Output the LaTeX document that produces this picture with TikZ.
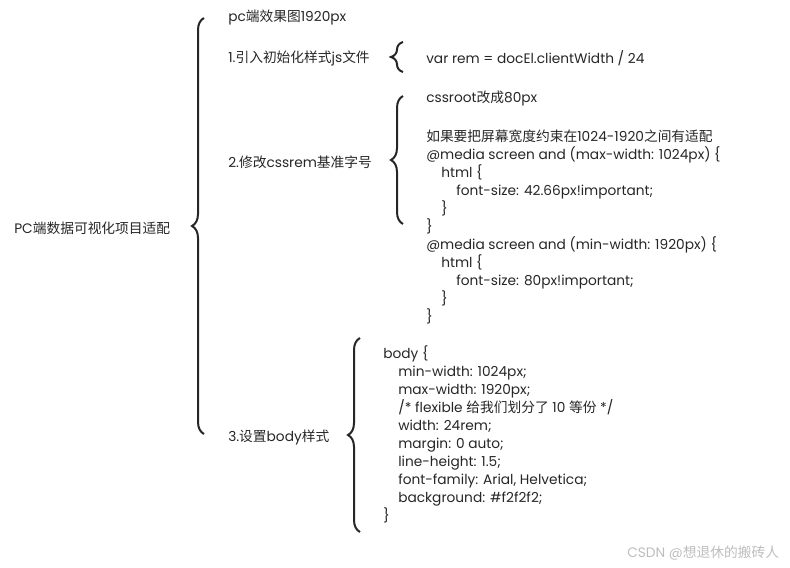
\documentclass[tikz,border=0pt]{standalone}
\usepackage{fontspec}
\setmainfont{Poppins}
\newfontfamily\zhfont{Noto Sans CJK SC}
\newcommand{\zh}[1]{{\zhfont #1}}
\usepackage{xcolor}
\definecolor{ink}{HTML}{262626}
\definecolor{mark}{HTML}{BDBDBD}
\usetikzlibrary{decorations.pathreplacing}
\newcommand{\ind}{\hspace*{11.25pt}}

\begin{document}
\begin{tikzpicture}[x=0.75pt,y=-0.75pt,
  lbl/.style={anchor=west,inner sep=0pt,text=ink,font=\fontsize{10.3}{13.5}\selectfont},
  code/.style={anchor=north west,inner sep=0pt,align=left,text=ink,font=\fontsize{10.3}{13.5}\selectfont},
  curly/.style={decorate,decoration={brace,amplitude=9pt},line width=1.5pt,draw=ink}]
  \useasboundingbox (0,0) rectangle (790,568);
  % root and first level
  \node[lbl] (root) at (14,228) {PC\zh{端数据可视化项目适配}};
  \node[lbl] (pc) at (228,18) {pc\zh{端效果图}1920px};
  \node[lbl] (step1) at (228,58) {1.\zh{引入初始化样式}js\zh{文件}};
  \node[lbl] (step2) at (228,162) {2.\zh{修改}cssrem\zh{基准字号}};
  \node[lbl] (step3) at (228,437) {3.\zh{设置}body\zh{样式}};
  % second level
  \node[lbl] (rem) at (426,58) {var rem = docEl.clientWidth / 24};
  \node[code] (cssroot) at (426,91) {cssroot\zh{改成}80px\\[15.75pt]
    \zh{如果要把屏幕宽度约束在}1024-1920\zh{之间有适配}\\
    @media screen and (max-width: 1024px) \{\\
    \ind html \{\\
    \ind\ind font-size: 42.66px!important;\\
    \ind \}\\
    \}\\
    @media screen and (min-width: 1920px) \{\\
    \ind html \{\\
    \ind\ind font-size: 80px!important;\\
    \ind \}\\
    \}};
  \node[code] (body) at (383,345) {body \{\\
    \ind min-width: 1024px;\\
    \ind max-width: 1920px;\\
    \ind /* flexible \zh{给我们划分了} 10 \zh{等份} */\\
    \ind width: 24rem;\\
    \ind margin: 0 auto;\\
    \ind line-height: 1.5;\\
    \ind font-family: Arial, Helvetica;\\
    \ind background: \#f2f2f2;\\
    \}};
  % braces
  \coordinate (b0a) at (204,434); \coordinate (b0b) at (204,18);
  \coordinate (b1a) at (403,72);  \coordinate (b1b) at (403,42);
  \coordinate (b2a) at (403,224); \coordinate (b2b) at (403,96);
  \coordinate (b3a) at (360,532); \coordinate (b3b) at (360,338);
  \draw[curly] (b0a) -- (b0b);
  \draw[curly] (b1a) -- (b1b);
  \draw[curly] (b2a) -- (b2b);
  \draw[curly] (b3a) -- (b3b);
  % watermark
  \node[lbl,text=mark] (wm) at (627,553) {CSDN @\zh{想退休的搬砖人}};
\end{tikzpicture}
\end{document}
